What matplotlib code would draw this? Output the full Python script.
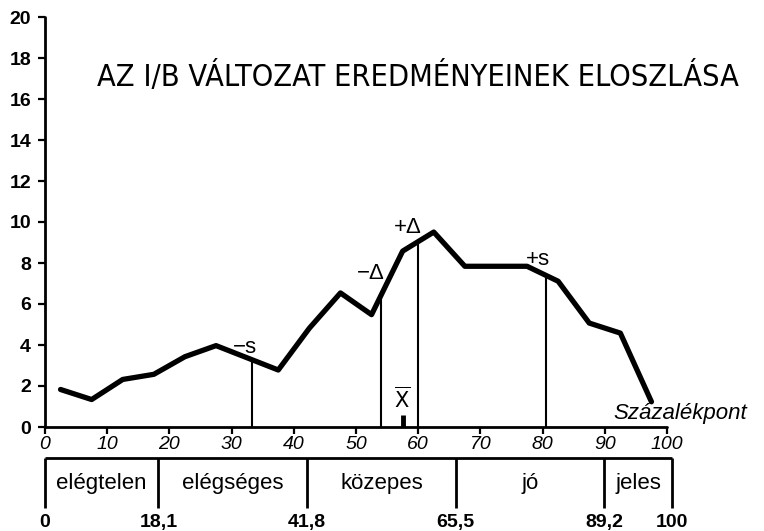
import numpy as np
import matplotlib
matplotlib.use("Agg")
import matplotlib.pyplot as plt
from matplotlib import font_manager as fm

# ---------------- data ----------------
pct = [2.5, 7.5, 12.5, 17.5, 22.5, 27.5, 37.5, 42.5, 47.5, 52.5,
       57.5, 62.5, 67.5, 72.5, 77.5, 82.5, 87.5, 92.5, 97.5]
freq = [1.83, 1.34, 2.32, 2.57, 3.43, 3.97, 2.78, 4.82, 6.54, 5.48,
        8.58, 9.51, 7.84, 7.84, 7.84, 7.11, 5.07, 4.58, 1.23]

stat_names = ["−s", "−Δ", "+Δ", "+s"]
stat_x = [33.2, 54.0, 59.9, 80.5]
stat_label_xy = [(32.2, 3.9), (52.3, 7.5), (58.4, 9.75), (79.3, 8.15)]
mean_x = 57.5

x_ticks = list(range(0, 101, 10))
y_ticks = list(range(0, 21, 2))

grade_bounds = [0, 18.1, 41.8, 65.5, 89.2, 100]
grade_bound_labels = ["0", "18,1", "41,8", "65,5", "89,2", "100"]
grade_names = ["elégtelen", "elégséges", "közepes", "jó", "jeles"]

title = "AZ I/B VÁLTOZAT EREDMÉNYEINEK ELOSZLÁSA"
xlabel = "Százalékpont"


def pick_narrow():
    cands = [("Liberation Sans Narrow", "normal"),
             ("DejaVu Sans Condensed", "normal"),
             ("DejaVu Sans", "condensed"),
             ("Noto Sans", "condensed"),
             ("Open Sans", "condensed"),
             ("Roboto", "condensed"),
             ("Inter", "condensed")]
    for fam, st in cands:
        try:
            p = fm.findfont(fm.FontProperties(family=fam, stretch=st),
                            fallback_to_default=False)
        except Exception:
            continue
        pl = p.lower()
        if "condensed" in pl or "narrow" in pl:
            return fm.FontProperties(fname=p)
    return None


plain = "Liberation Sans"
narrow_fp = pick_narrow()
plt.rcParams["font.family"] = [plain, "DejaVu Sans"]

W, H = 764, 531
fig = plt.figure(figsize=(W / 100, H / 100), dpi=100)

# main axes: x=0 at px 45, x=100 at px 667 ; y=0 at py 427, y=20 at py 17
x0, x1 = 45, 667
y0, y1 = 427, 17
ax = fig.add_axes([x0 / W, (H - y0) / H, (x1 - x0) / W, (y0 - y1) / H])
ax.set_xlim(0, 100)
ax.set_ylim(0, 20)
for s in ["top", "right"]:
    ax.spines[s].set_visible(False)
for s in ["left", "bottom"]:
    ax.spines[s].set_linewidth(2.0)
    ax.spines[s].set_capstyle("round")
ax.set_xticks(x_ticks)
ax.set_yticks(y_ticks)
ax.tick_params(axis="both", direction="out", length=5, width=1.6, colors="black")
ax.tick_params(axis="x", pad=1.5, labelsize=14)
ax.tick_params(axis="y", pad=5, labelsize=14)
for lab in ax.get_yticklabels():
    lab.set_fontweight("bold")
for lab in ax.get_xticklabels():
    lab.set_fontstyle("italic")
ax.patch.set_visible(False)

# main curve
ax.plot(pct, freq, color="black", lw=3.8, solid_joinstyle="round",
        solid_capstyle="round", clip_on=False, zorder=3)

# statistic verticals
tops = np.interp(stat_x, pct, freq)
ax.vlines(stat_x, 0, tops, color="black", lw=1.5, zorder=2)
for name, (lx, ly) in zip(stat_names, stat_label_xy):
    ax.text(lx, ly, name, ha="center", va="center", fontsize=16)

# mean marker
ax.vlines([mean_x], 0, 0.6, color="black", lw=3.5, zorder=2)
ax.text(mean_x, 1.35, r"$\overline{\mathsf{X}}$", ha="center", va="center",
        fontsize=15)

# axis label
fig.text(613 / W, (H - 419) / H, xlabel, ha="left", va="baseline",
         fontsize=16, fontstyle="italic")

# title, fitted to the reference width (px 95 .. 740)
tkw = {}
if narrow_fp is not None:
    tkw["fontproperties"] = narrow_fp
t = fig.text(418 / W, (H - 86) / H, title, ha="center", va="baseline", **tkw)
t.set_fontsize(23)
renderer = fig.canvas.get_renderer()
w = t.get_window_extent(renderer).width
t.set_fontsize(min(23, 23 * 645 / w))

# grade bar: 0 at px 45, 100 at px 672 ; py 531..455 -> 0..1
bx0, bx1 = 45, 672
bax = fig.add_axes([bx0 / W, 0, (bx1 - bx0) / W, 76 / H])
bax.set_xlim(0, 100)
bax.set_ylim(0, 1)
bax.axis("off")
top_y = (531 - 458) / 76
bot_y = (531 - 508) / 76
bax.plot([grade_bounds[0], grade_bounds[-1]], [top_y, top_y], color="black",
         lw=2.0, solid_capstyle="butt", clip_on=False)
bax.vlines(grade_bounds, bot_y, top_y, color="black", lw=2.0, clip_on=False)
mids = [(a + b) / 2 for a, b in zip(grade_bounds[:-1], grade_bounds[1:])]
for m, name in zip(mids, grade_names):
    bax.text(m, (531 - 489) / 76, name, ha="center", va="baseline",
             fontsize=16)
for b, lab in zip(grade_bounds, grade_bound_labels):
    bax.text(b, (531 - 527) / 76, lab, ha="center", va="baseline",
             fontsize=14, fontweight="bold", clip_on=False)

fig.savefig("out.png", dpi=100)
